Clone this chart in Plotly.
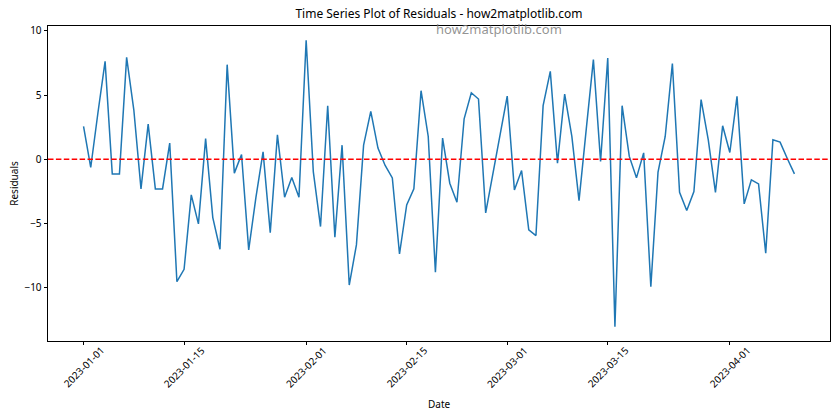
import pandas as pd
import plotly.graph_objects as go

start_date = "2023-01-01"
n_days = 100
residuals = [
    2.55, -0.65, 3.6, 7.63, -1.15, -1.15, 7.94, 3.85, -2.32, 2.73,
    -2.32, -2.32, 1.25, -9.56, -8.6, -2.79, -5.05, 1.6, -4.56, -7.03,
    7.37, -1.09, 0.36, -7.08, -3.0, 0.57, -5.73, 1.9, -2.97, -1.43,
    -2.97, 9.27, -1.0, -5.26, 4.17, -6.09, 1.09, -9.82, -6.69, 1.09,
    3.72, 0.86, -0.49, -1.46, -7.4, -3.57, -2.32, 5.34, 1.77, -8.83,
    1.64, -1.88, -3.36, 3.15, 5.18, 4.69, -4.2, -1.2, 1.85, 4.92,
    -2.4, -0.89, -5.52, -5.96, 4.17, 6.85, -0.31, 5.08, 1.77, -3.23,
    2.3, 7.76, -0.18, 7.89, -13.07, 4.17, 0.21, -1.46, 0.49, -9.95,
    -1.02, 1.77, 7.45, -2.58, -4.01, -2.53, 4.64, 1.51, -2.6, 2.6,
    0.52, 4.9, -3.49, -1.61, -1.93, -7.34, 1.51, 1.33, 0.05, -1.15,
]
x_tick_labels = ["2023-01-01", "2023-01-15", "2023-02-01", "2023-02-15",
                 "2023-03-01", "2023-03-15", "2023-04-01"]
y_ticks = [-10, -5, 0, 5, 10]

dates = pd.date_range(start_date, periods=n_days)
span = dates[-1] - dates[0]
x_range = [dates[0] - span * 0.05, dates[-1] + span * 0.05]
ymin, ymax = min(residuals), max(residuals)
yspan = ymax - ymin
y_range = [ymin - 0.05 * yspan, ymax + 0.05 * yspan]

FONT = "Noto Sans, Open Sans, DejaVu Sans, sans-serif"

fig = go.Figure()
fig.add_trace(go.Scatter(
    x=dates, y=residuals, mode="lines",
    line=dict(color="#1f77b4", width=1.5),
    showlegend=False,
))
fig.add_hline(y=0, line=dict(color="#ff0000", width=1.5, dash="5.5px,2.4px"))

annotations = []
for lab in x_tick_labels:
    annotations.append(dict(
        x=lab, y=-0.083, xref="x", yref="paper", text=lab, showarrow=False,
        textangle=-45, xanchor="center", yanchor="middle",
        font=dict(family=FONT, size=10, color="black"),
    ))
annotations.append(dict(
    x=0.5766, y=0.99, xref="paper", yref="paper", text="how2matplotlib.com",
    showarrow=False, xanchor="center", yanchor="middle",
    font=dict(family=FONT, size=13, color="rgba(128,128,128,0.85)"),
))
annotations.append(dict(
    x=0.5, y=-0.2, xref="paper", yref="paper", text="Date", showarrow=False,
    xanchor="center", yanchor="middle",
    font=dict(family=FONT, size=10, color="black"),
))

fig.update_layout(
    width=840, height=420,
    margin=dict(l=48, r=10, t=26, b=79),
    paper_bgcolor="white", plot_bgcolor="white",
    title=dict(text="Time Series Plot of Residuals - how2matplotlib.com",
               x=0.5, xref="paper", y=1 - 13.5 / 420, yanchor="middle",
               font=dict(family=FONT, size=12, color="black")),
    annotations=annotations,
    xaxis=dict(
        range=x_range, tickmode="array", tickvals=x_tick_labels,
        showticklabels=False, ticks="outside", ticklen=3.5, tickwidth=0.8,
        tickcolor="black", showline=True, linecolor="black", linewidth=0.8,
        mirror=True, showgrid=False, zeroline=False, automargin=False,
    ),
    yaxis=dict(
        range=y_range, tickmode="array", tickvals=y_ticks,
        ticks="outside", ticklen=3.5, tickwidth=0.8, tickcolor="black",
        showline=True, linecolor="black", linewidth=0.8, mirror=True,
        showgrid=False, zeroline=False, automargin=False,
        tickfont=dict(family=FONT, size=10, color="black"),
        title=dict(text="Residuals", standoff=3,
                   font=dict(family=FONT, size=10, color="black")),
    ),
)

fig.write_html("out.html")
